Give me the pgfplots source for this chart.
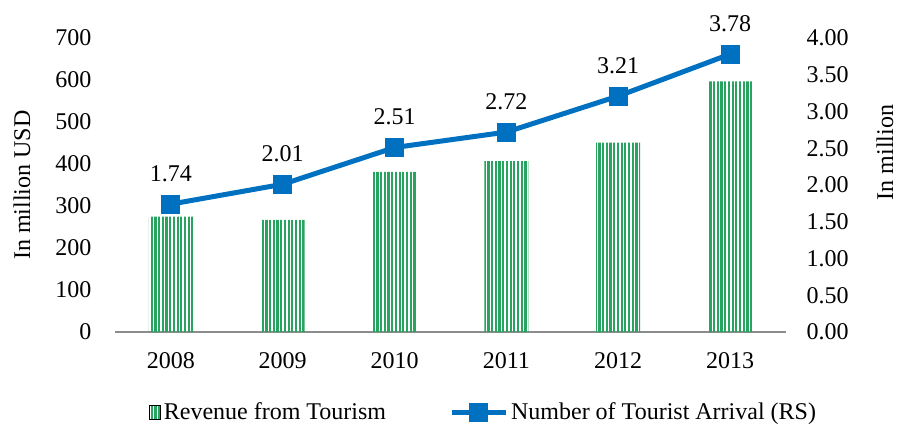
\documentclass[border=0pt]{standalone}
\usepackage{pgfplots}
\pgfplotsset{compat=1.18}
\usepackage{fontspec}
\setmainfont{Liberation Serif}
\usetikzlibrary{patterns.meta}
\definecolor{barGreen}{RGB}{40,164,96}
\definecolor{lineBlue}{RGB}{0,112,192}
\definecolor{axGray}{RGB}{140,140,140}
\newcommand{\fs}{\fontsize{12}{14}\selectfont}
\pgfplotsset{longline legend/.style={legend image code/.code={\draw[mark repeat=2,mark phase=2,##1] plot coordinates {(0pt,0pt) (13.5pt,0pt) (27pt,0pt)};}}}
\begin{document}
\fs
\begin{tikzpicture}
\path[use as bounding box] (-57.5pt,-48.5pt) rectangle (392.5pt,166pt);
\begin{axis}[
  at={(0,0)}, anchor=south west,
  scale only axis, width=335.5pt, height=147pt,
  xmin=-0.5, xmax=5.5, ymin=0, ymax=700,
  axis x line*=bottom, axis y line*=left,
  x axis line style={-, draw=axGray, line width=0.8pt},
  y axis line style={draw=none},
  xtick={0,1,2,3,4,5},
  xticklabels={2008,2009,2010,2011,2012,2013},
  x tick style={draw=none},
  extra x ticks={-0.5,0.5,1.5,2.5,3.5,4.5,5.5},
  extra x tick labels={},
  extra x tick style={tick align=outside, major tick length=3pt, tick style={draw=axGray, line width=0.8pt}},
  xticklabel style={yshift=-6pt},
  ytick={0,100,...,700},
  y tick style={draw=none},
  yticklabel style={xshift=-7.6pt},
  /pgf/number format/assume math mode=true,
  ticklabel style={font=\fs},
  clip=false,
]
\addplot[ybar, bar width=22pt, draw=none, pattern={Lines[angle=90,distance=1.85pt,line width=1.1pt]}, pattern color=barGreen]
  coordinates {(0,275) (1,267) (2,381) (3,407) (4,451) (5,597)};
\node[xshift=-46.5pt, rotate=90, font=\fs] at (axis description cs:0,0.5) {In million USD};
\end{axis}
\begin{axis}[
  at={(0,0)}, anchor=south west,
  scale only axis, width=335.5pt, height=147pt,
  xmin=-0.5, xmax=5.5, ymin=0, ymax=4,
  axis x line=none, axis y line*=right,
  y axis line style={draw=none},
  ytick={0,0.5,...,4},
  y tick style={draw=none},
  yticklabel style={xshift=6.1pt, /pgf/number format/.cd, fixed, fixed zerofill, precision=2},
  /pgf/number format/assume math mode=true,
  ticklabel style={font=\fs},
  clip=false,
  legend style={at={(axis description cs:0.55,-0.275)}, anchor=center, draw=none, fill=none,
    legend columns=2, font=\fs,
    /tikz/every even column/.append style={column sep=30pt},
    nodes={inner sep=1.5pt}},
  legend cell align=left,
]
\addlegendimage{legend image code/.code={\fill[pattern={Lines[angle=90,distance=1.85pt,line width=1.1pt]}, pattern color=barGreen] (0pt,-3.5pt) rectangle (5.5pt,3.5pt);}}
\addlegendentry{Revenue from Tourism}
\addplot[color=lineBlue, line width=2.5pt, mark=square*, mark size=3.5pt, mark options={fill=lineBlue, draw=lineBlue},
  nodes near coords, point meta=explicit symbolic,
  every node near coord/.append style={font=\fs, text=black, anchor=south, yshift=6pt},
  longline legend]
  coordinates {(0,1.74)[1.74] (1,2.01)[2.01] (2,2.51)[2.51] (3,2.72)[2.72] (4,3.21)[3.21] (5,3.78)[3.78]};
\addlegendentry{Number of Tourist Arrival (RS)}
\node[xshift=49.5pt, rotate=90, font=\fs] at (axis description cs:1,0.61) {In million};
\end{axis}
\end{tikzpicture}
\end{document}
